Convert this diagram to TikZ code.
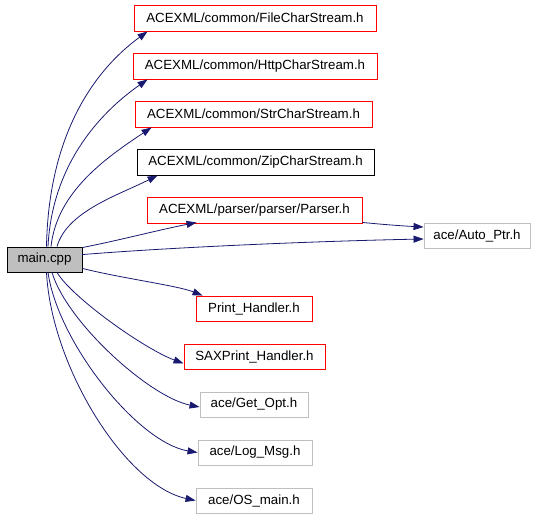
\documentclass[tikz,border=0pt]{standalone}
\usepackage{fontspec}
\setmainfont{Liberation Sans}
\usetikzlibrary{arrows.meta}
\definecolor{edgeblue}{RGB}{25,25,112}
\definecolor{boxgray}{RGB}{191,191,191}
\tikzset{
  box/.style={draw, line width=0.9pt, inner sep=0pt, minimum height=26pt, anchor=center, font=\fontsize{13.3}{15}\selectfont},
  redbox/.style={box, draw=red},
  blackbox/.style={box, draw=black},
  graybox/.style={box, draw=boxgray},
  edge/.style={draw=edgeblue, line width=0.8pt, -{Triangle[length=10pt,width=7pt]}, fill=none},
}
\begin{document}
\begin{tikzpicture}[x=1pt,y=-1pt]
\useasboundingbox (0,0) rectangle (539,517);
\node[blackbox, fill=boxgray, minimum width=75pt, minimum height=25pt] (main) at (44.5,259.5) {main.cpp};
\node[redbox, minimum width=242pt] (file) at (255,18) {ACEXML/common/FileCharStream.h};
\node[redbox, minimum width=244pt] (http) at (255,66) {ACEXML/common/HttpCharStream.h};
\node[redbox, minimum width=237pt] (str) at (253.5,114) {ACEXML/common/StrCharStream.h};
\node[blackbox, minimum width=237pt] (zip) at (255.5,162) {ACEXML/common/ZipCharStream.h};
\node[redbox, minimum width=215pt] (parser) at (254.5,210) {ACEXML/parser/parser/Parser.h};
\node[graybox, minimum width=106pt, minimum height=25pt] (auto) at (477,235.5) {ace/Auto\_Ptr.h};
\node[redbox, minimum width=116pt, minimum height=25pt] (print) at (254,308.5) {Print\_Handler.h};
\node[redbox, minimum width=141pt, minimum height=25pt] (sax) at (254.5,356.5) {SAXPrint\_Handler.h};
\node[graybox, minimum width=108pt, minimum height=25pt] (getopt) at (254,404.5) {ace/Get\_Opt.h};
\node[graybox, minimum width=114pt, minimum height=25pt] (logmsg) at (255,452.5) {ace/Log\_Msg.h};
\node[graybox, minimum width=116pt, minimum height=25pt] (osmain) at (254,500.5) {ace/OS\_main.h};

\draw[edge] ([xshift=2pt]main.north) .. controls +(2,-110) and +(-55,40) .. ([xshift=14pt]file.south west);
\draw[edge] ([xshift=3.5pt]main.north) .. controls +(4,-80) and +(-50,35) .. ([xshift=15pt]http.south west);
\draw[edge] ([xshift=6.5pt]main.north) .. controls +(6,-55) and +(-45,30) .. ([xshift=17pt]str.south west);
\draw[edge] ([xshift=12.5pt]main.north) .. controls +(10,-35) and +(-40,20) .. ([xshift=21pt]zip.south west);
\draw[edge] ([yshift=-1pt]main.north east) .. controls +(40,-8) and +(-40,8) .. ([xshift=50pt,yshift=1pt]parser.south west);
\draw[edge] ([yshift=-8pt]main.north east) .. controls +(100,-8) and +(-100,2) .. ([yshift=-3.5pt]auto.west);
\draw[edge] ([yshift=1pt]parser.south east) .. controls +(20,2) and +(-20,-1) .. ([yshift=8.5pt]auto.west);
\draw[edge] ([yshift=4pt]main.south east) .. controls +(40,10) and +(-25,-10) .. ([xshift=7pt]print.north west);
\draw[edge] ([xshift=12.5pt]main.south) .. controls +(15,25) and +(-40,-15) .. ([yshift=-7pt]sax.west);
\draw[edge] ([xshift=7.5pt]main.south) .. controls +(15,50) and +(-50,-10) .. ([yshift=-2.5pt]getopt.west);
\draw[edge] ([xshift=3.5pt]main.south) .. controls +(10,70) and +(-60,-10) .. (logmsg.west);
\draw[edge] ([xshift=2pt]main.south) .. controls +(5,95) and +(-70,-15) .. (osmain.west);
\end{tikzpicture}
\end{document}
